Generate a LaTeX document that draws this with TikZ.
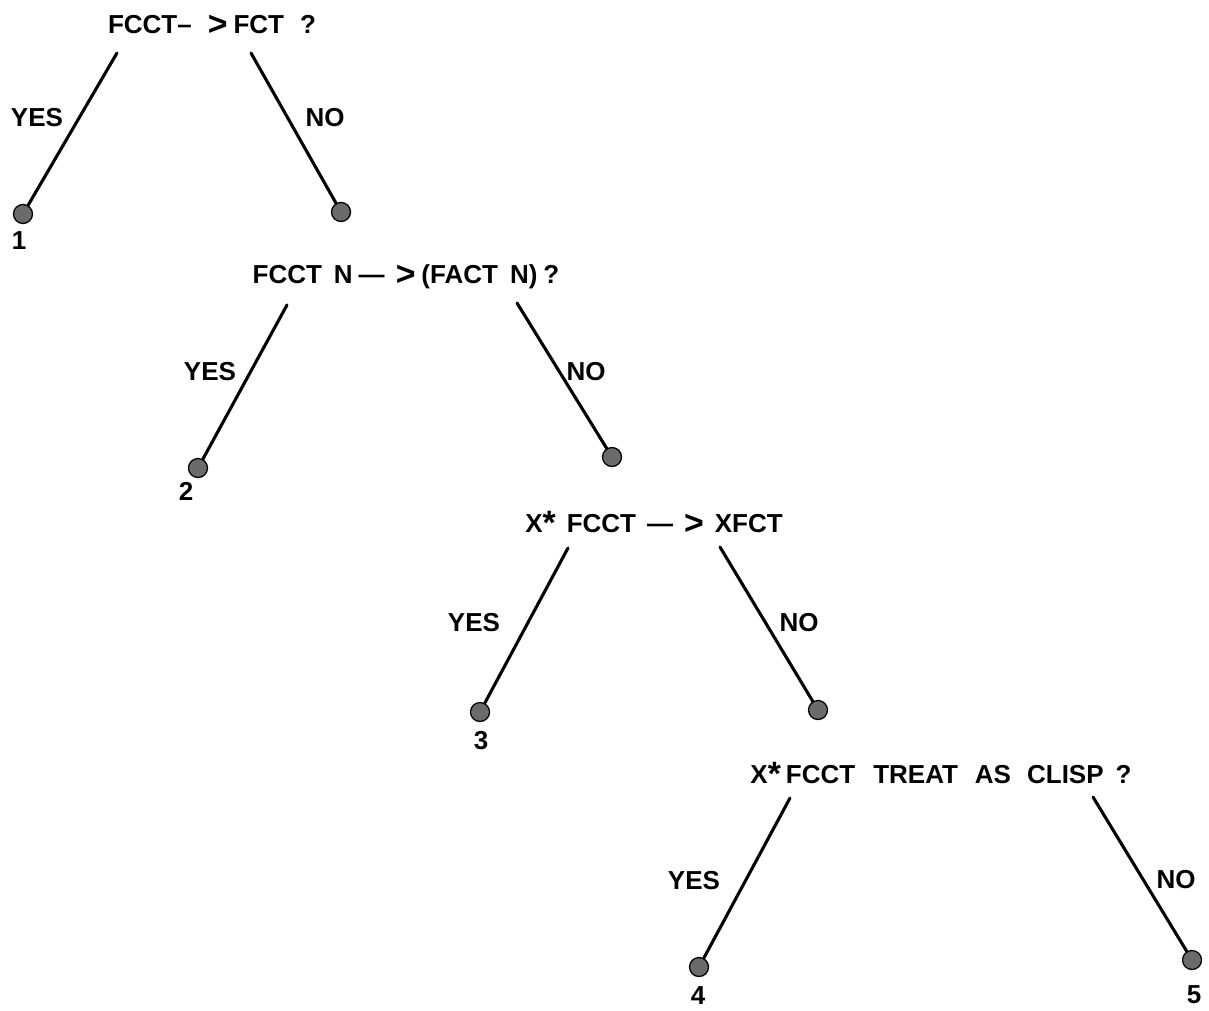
\documentclass[tikz,border=0pt]{standalone}
\usepackage{fontspec}
\newfontfamily\lettering{Liberation Sans Bold}
\newcommand{\gtsym}{\raisebox{-2.5pt}{\scalebox{1.3}{>}}}
\newcommand{\astsym}{\raisebox{-2pt}{\scalebox{1.3}{*}}}
\begin{document}
\begin{tikzpicture}[x=1pt,y=-1pt,
  lbl/.style={font=\lettering\fontsize{26}{26}\selectfont, inner sep=0pt, text height=18.6pt, text depth=0pt},
  leaf/.style={circle, fill=black!58, draw=black, line width=1.3pt, minimum size=19pt, inner sep=0pt},
  branch/.style={line width=3.1pt, line cap=round}]
\fill[white] (0,0) rectangle (1209,1010);
\useasboundingbox (0,0) rectangle (1209,1010);

% questions
\node[lbl] (q1) at (212,24) {FCCT–\hspace{16pt}\gtsym\hspace{6pt}FCT\hspace{16pt}?};
\node[lbl] (q2) at (406,274) {FCCT\hspace{12pt}N\hspace{6pt}—\hspace{11pt}\gtsym\hspace{6pt}(FACT\hspace{12pt}N)\hspace{6pt}?};
\node[lbl] (q3) at (654,523) {X\astsym\hspace{11pt}FCCT\hspace{11pt}—\hspace{11pt}\gtsym\hspace{11pt}XFCT};
\node[lbl] (q4) at (941,774) {X\astsym\hspace{5pt}FCCT\hspace{18pt}TREAT\hspace{17pt}AS\hspace{16pt}CLISP\hspace{12pt}?};

% branch start points
\coordinate (q1y) at (117,53);
\coordinate (q1n) at (251,53);
\coordinate (q2y) at (287,305);
\coordinate (q2n) at (517,303);
\coordinate (q3y) at (568,548);
\coordinate (q3n) at (720,547);
\coordinate (q4y) at (790,798);
\coordinate (q4n) at (1093,797);

% leaves
\node[leaf] (d1) at (23,214) {};
\node[leaf] (n1) at (341,212) {};
\node[leaf] (d2) at (198,468) {};
\node[leaf] (n2) at (612,457) {};
\node[leaf] (d3) at (480,712) {};
\node[leaf] (n3) at (818,710) {};
\node[leaf] (d4) at (699,967) {};
\node[leaf] (d5) at (1192,960) {};

% branches
\draw[branch] (q1y) -- (d1);
\draw[branch] (q1n) -- (n1);
\draw[branch] (q2y) -- (d2);
\draw[branch] (q2n) -- (n2);
\draw[branch] (q3y) -- (d3);
\draw[branch] (q3n) -- (n3);
\draw[branch] (q4y) -- (d4);
\draw[branch] (q4n) -- (d5);

% branch labels
\node[lbl] (y1) at (37,117) {YES};
\node[lbl] (no1) at (325,117) {NO};
\node[lbl] (y2) at (210,371) {YES};
\node[lbl] (no2) at (586,371) {NO};
\node[lbl] (y3) at (474,622) {YES};
\node[lbl] (no3) at (799,622) {NO};
\node[lbl] (y4) at (694,880) {YES};
\node[lbl] (no4) at (1176,879) {NO};

% outcome numbers
\node[lbl] (r1) at (19,240) {1};
\node[lbl] (r2) at (186,491) {2};
\node[lbl] (r3) at (481,740) {3};
\node[lbl] (r4) at (698,995) {4};
\node[lbl] (r5) at (1194,994) {5};
\end{tikzpicture}
\end{document}
